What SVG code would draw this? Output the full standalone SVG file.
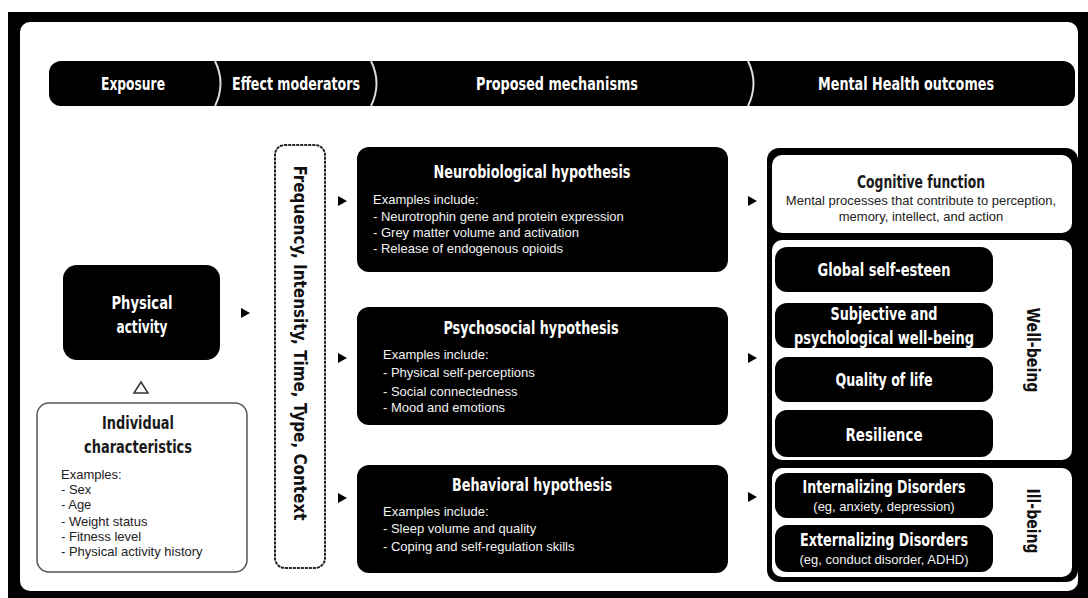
<svg xmlns="http://www.w3.org/2000/svg" xmlns:xlink="http://www.w3.org/1999/xlink" width="1088" height="598" viewBox="0 0 1088 598">
<style>
.cond{font-family:"DejaVu Sans Condensed","Liberation Sans Narrow","Roboto Condensed",sans-serif;font-weight:bold;font-size:17px;}
.hd{fill:#fff;text-anchor:middle;}
.tw{fill:#fff;text-anchor:middle;}
.tb{fill:#1a1a1a;text-anchor:middle;}
.body{font-family:"Liberation Sans",Arial,sans-serif;font-size:13px;}
.bw{fill:#f2f2f2;}
.bk{fill:#222;}
.blk{fill:#000;}
.wht{fill:#fff;}
</style>
<defs>
<path id="arr" d="M0,-5 L9,0 L0,5 Z" fill="#000"/>
</defs>
<rect x="0" y="0" width="1088" height="598" fill="#fff"/>
<!-- frame -->
<rect x="8" y="12" width="1080" height="586" fill="#000"/>
<rect x="20" y="22" width="1058" height="569" rx="10" fill="#fff"/>

<g id="header">
<rect x="49" y="61" width="1026" height="45" rx="12" class="blk"/>
<path d="M215,61 Q226,83.5 215,106" fill="none" stroke="#ddd" stroke-width="2"/>
<path d="M371,61 Q382,83.5 371,106" fill="none" stroke="#ddd" stroke-width="2"/>
<path d="M748,61 Q759,83.5 748,106" fill="none" stroke="#ddd" stroke-width="2"/>
<text class="cond hd" x="133" y="90" textLength="64" lengthAdjust="spacingAndGlyphs">Exposure</text>
<text class="cond hd" x="296" y="90" textLength="128" lengthAdjust="spacingAndGlyphs">Effect moderators</text>
<text class="cond hd" x="557" y="90" textLength="162" lengthAdjust="spacingAndGlyphs">Proposed mechanisms</text>
<text class="cond hd" x="906" y="90" textLength="176" lengthAdjust="spacingAndGlyphs">Mental Health outcomes</text>
</g>

<g id="physical-activity">
<rect x="63" y="265" width="157" height="95" rx="14" class="blk"/>
<text class="cond tw" x="142" y="309" textLength="61" lengthAdjust="spacingAndGlyphs">Physical</text>
<text class="cond tw" x="142" y="333" textLength="51" lengthAdjust="spacingAndGlyphs">activity</text>
</g>

<g id="individual-characteristics">
<rect x="37" y="403" width="210" height="169" rx="12" fill="#fff" stroke="#555" stroke-width="1.5"/>
<text class="cond tb" x="138" y="429" textLength="72" lengthAdjust="spacingAndGlyphs">Individual</text>
<text class="cond tb" x="138" y="453" textLength="108" lengthAdjust="spacingAndGlyphs">characteristics</text>
<text class="body bk" x="61" y="479">Examples:</text>
<text class="body bk" x="61" y="494">- Sex</text>
<text class="body bk" x="61" y="509">- Age</text>
<text class="body bk" x="61" y="526">- Weight status</text>
<text class="body bk" x="61" y="541">- Fitness level</text>
<text class="body bk" x="61" y="556">- Physical activity history</text>
</g>

<g id="moderators">
<rect x="275" y="145" width="50" height="423" rx="10" fill="none" stroke="#222" stroke-width="2" stroke-dasharray="1.5 2.5" stroke-linecap="round"/>
<text class="cond" fill="#111" text-anchor="middle" transform="translate(294,343) rotate(90)" textLength="355" lengthAdjust="spacingAndGlyphs">Frequency, Intensity, Time, Type, Context</text>
</g>

<g id="neurobiological">
<rect x="357" y="147" width="371" height="125" rx="12" class="blk"/>
<text class="cond tw" x="532" y="178" textLength="197" lengthAdjust="spacingAndGlyphs">Neurobiological hypothesis</text>
<text class="body bw" x="373" y="204">Examples include:</text>
<text class="body bw" x="373" y="221">- Neurotrophin gene and protein expression</text>
<text class="body bw" x="373" y="237">- Grey matter volume and activation</text>
<text class="body bw" x="373" y="253">- Release of endogenous opioids</text>
</g>

<g id="psychosocial">
<rect x="357" y="307" width="371" height="118" rx="12" class="blk"/>
<text class="cond tw" x="531" y="334" textLength="175" lengthAdjust="spacingAndGlyphs">Psychosocial hypothesis</text>
<text class="body bw" x="383" y="359">Examples include:</text>
<text class="body bw" x="383" y="377">- Physical self-perceptions</text>
<text class="body bw" x="383" y="396">- Social connectedness</text>
<text class="body bw" x="383" y="412">- Mood and emotions</text>
</g>

<g id="behavioral">
<rect x="357" y="465" width="371" height="108" rx="12" class="blk"/>
<text class="cond tw" x="532" y="491" textLength="160" lengthAdjust="spacingAndGlyphs">Behavioral hypothesis</text>
<text class="body bw" x="383" y="516">Examples include:</text>
<text class="body bw" x="383" y="533">- Sleep volume and quality</text>
<text class="body bw" x="383" y="551">- Coping and self-regulation skills</text>
</g>

<g id="outcomes">
<rect x="767" y="148" width="311" height="434" rx="12" class="blk"/>
<g id="cognitive-function">
<rect x="772" y="155" width="300" height="78" rx="10" class="wht"/>
<text class="cond tb" x="921" y="188" textLength="128" lengthAdjust="spacingAndGlyphs">Cognitive function</text>
<text class="body bk" x="921" y="205" text-anchor="middle" font-size="12.8">Mental processes that contribute to perception,</text>
<text class="body bk" x="921" y="221" text-anchor="middle" font-size="12.8">memory, intellect, and action</text>
</g>
<g id="well-being">
<rect x="772" y="240" width="300" height="220" rx="10" class="wht"/>
<text class="cond" fill="#111" text-anchor="middle" transform="translate(1027,350) rotate(90)" textLength="85" lengthAdjust="spacingAndGlyphs">Well-being</text>
</g>
<g id="global-self-esteem">
<rect x="775" y="247" width="218" height="45" rx="12" class="blk"/>
<text class="cond tw" x="884" y="276" textLength="133" lengthAdjust="spacingAndGlyphs">Global self-esteen</text>
</g>
<g id="subjective-wellbeing">
<rect x="775" y="303" width="218" height="45" rx="12" class="blk"/>
<text class="cond tw" x="884" y="320" textLength="107" lengthAdjust="spacingAndGlyphs">Subjective and</text>
<text class="cond tw" x="884" y="344" textLength="180" lengthAdjust="spacingAndGlyphs">psychological well-being</text>
</g>
<g id="quality-of-life">
<rect x="775" y="357" width="218" height="45" rx="12" class="blk"/>
<text class="cond tw" x="884" y="386" textLength="97" lengthAdjust="spacingAndGlyphs">Quality of life</text>
</g>
<g id="resilience">
<rect x="775" y="410" width="218" height="47" rx="12" class="blk"/>
<text class="cond tw" x="884" y="441" textLength="77" lengthAdjust="spacingAndGlyphs">Resilience</text>
</g>
<g id="ill-being">
<rect x="772" y="468" width="300" height="109" rx="10" class="wht"/>
<text class="cond" fill="#111" text-anchor="middle" transform="translate(1027,521) rotate(90)" textLength="65" lengthAdjust="spacingAndGlyphs">Ill-being</text>
</g>
<g id="internalizing">
<rect x="775" y="473" width="218" height="45" rx="12" class="blk"/>
<text class="cond tw" x="884" y="493" textLength="163" lengthAdjust="spacingAndGlyphs">Internalizing Disorders</text>
<text class="body bw" x="884" y="511" text-anchor="middle" font-size="12.8">(eg, anxiety, depression)</text>
</g>
<g id="externalizing">
<rect x="775" y="525" width="218" height="47" rx="12" class="blk"/>
<text class="cond tw" x="884" y="546" textLength="168" lengthAdjust="spacingAndGlyphs">Externalizing Disorders</text>
<text class="body bw" x="884" y="564" text-anchor="middle" font-size="12.8">(eg, conduct disorder, ADHD)</text>
</g>
</g>

<g id="connectors">
<use xlink:href="#arr" x="241" y="313"/>
<use xlink:href="#arr" x="338" y="201"/>
<use xlink:href="#arr" x="338" y="358"/>
<use xlink:href="#arr" x="338" y="498"/>
<use xlink:href="#arr" x="748" y="201"/>
<use xlink:href="#arr" x="748" y="358"/>
<use xlink:href="#arr" x="748" y="497"/>
<polygon points="134,393 141,382 148,393" fill="#fff" stroke="#333" stroke-width="1.5"/>
</g>
</svg>
